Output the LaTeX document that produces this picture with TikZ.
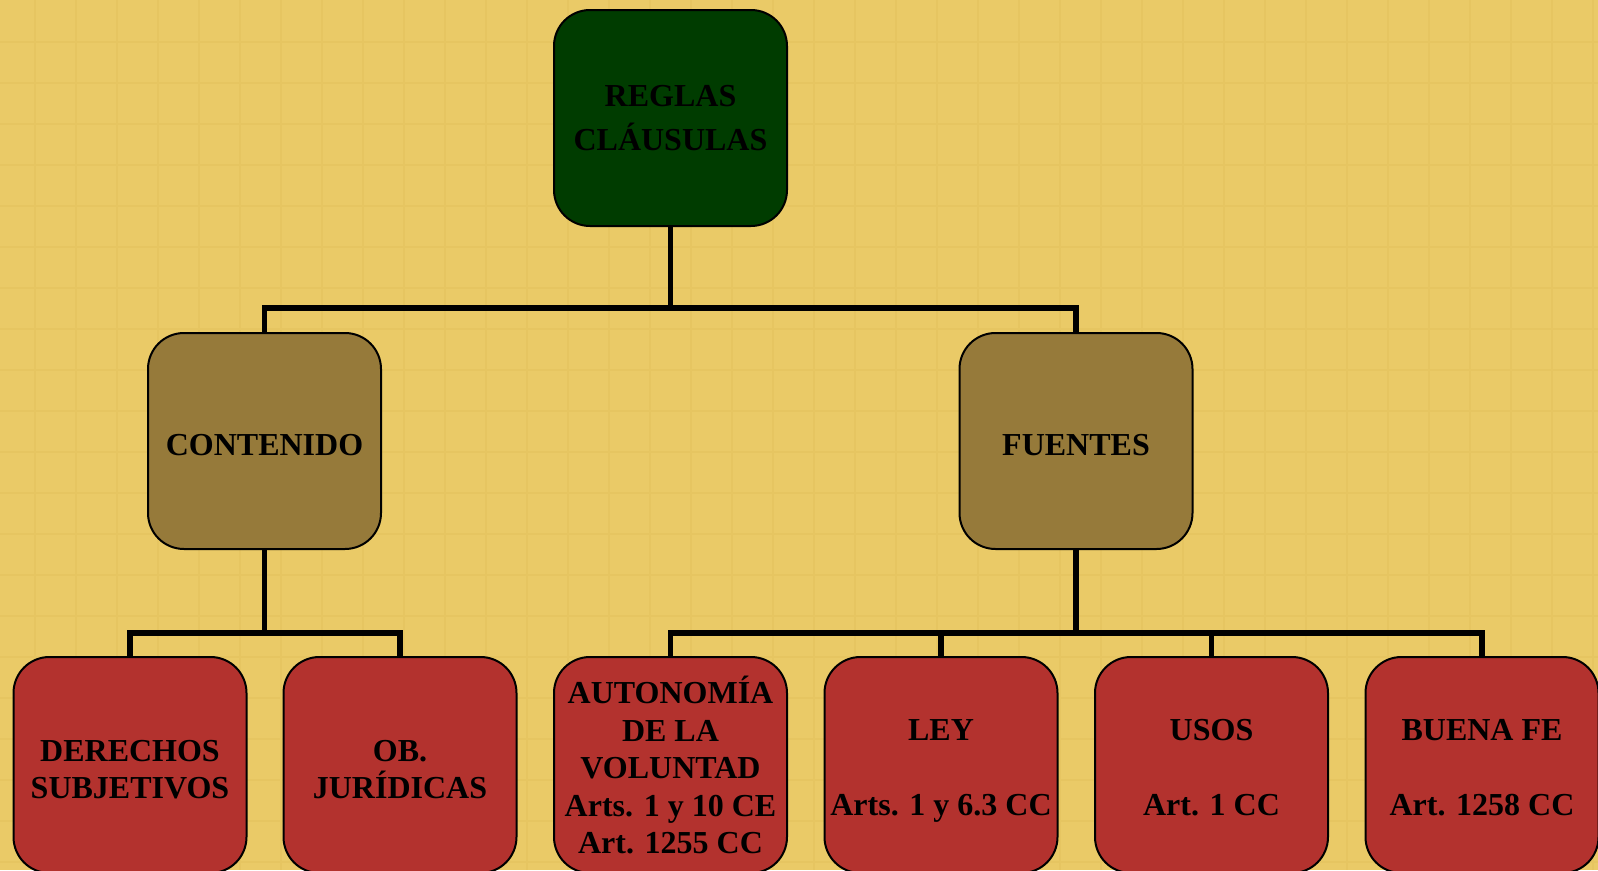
\documentclass[tikz,border=0pt]{standalone}
\usepackage{fontspec}
\setmainfont{Liberation Serif}
\usepackage{tikz}
\usetikzlibrary{positioning}

\definecolor{paper}{RGB}{234,202,103}
\definecolor{paperline}{RGB}{230,197,97}
\definecolor{rootgreen}{RGB}{0,60,0}
\definecolor{midbrown}{RGB}{150,122,58}
\definecolor{leafred}{RGB}{179,50,46}

\tikzset{
    box/.style={draw=black, line width=2pt, rounded corners=36pt, minimum width=233pt, minimum height=216pt, align=center, text=black, font=\fontsize{32}{37.5}\selectfont\bfseries},
    conn/.style={draw=black, line width=5.5pt}
}

\begin{document}
\begin{tikzpicture}[x=1pt, y=-1pt]
    % Background paper with a faint grid
    \fill[paper] (0,0) rectangle (1598,870);
    \useasboundingbox (0,0) rectangle (1598,870);
    \foreach \x in {0,...,38}
        \draw[paperline, line width=1.5pt] (35+41*\x,0) -- (35+41*\x,870);
    \foreach \y in {0,...,20}
        \draw[paperline, line width=1.5pt] (0,42+41*\y) -- (1598,42+41*\y);

    % Draw the boxes
    \node[box, fill=rootgreen] (Reglas) at (670.5,118) {REGLAS\\[6pt]CLÁUSULAS};
    \node[box, fill=midbrown] (Contenido) at (264.5,441) {\rule{0pt}{30pt}CONTENIDO};
    \node[box, fill=midbrown] (Fuentes) at (1076,441) {\rule{0pt}{30pt}FUENTES};

    \node[box, fill=leafred] (Derechos) at (130,765) {\rule{0pt}{30pt}DERECHOS\\SUBJETIVOS};
    \node[box, fill=leafred] (Obligaciones) at (400,765) {\rule{0pt}{30pt}OB.\\JURÍDICAS};
    \node[box, fill=leafred] (Autonomia) at (670.5,765) {AUTONOMÍA\\DE LA\\VOLUNTAD\\Arts. 1 y 10 CE\\Art. 1255 CC};
    \node[box, fill=leafred] (Ley) at (941,765) {\rule{0pt}{38pt}LEY\\[37.5pt]Arts. 1 y 6.3 CC\strut};
    \node[box, fill=leafred] (Usos) at (1211.5,765) {\rule{0pt}{38pt}USOS\\[37.5pt]Art. 1 CC\strut};
    \node[box, fill=leafred] (BuenaFe) at (1482,765) {\rule{0pt}{38pt}BUENA FE\\[37.5pt]Art. 1258 CC\strut};

    % Junctions of the tree
    \coordinate (J1) at (670.5,308);
    \coordinate (J2) at (264.5,633);
    \coordinate (J3) at (1076,633);

    % Connect the boxes
    \draw[conn] (Reglas.south) -- (J1) -| (Contenido.north);
    \draw[conn] (J1) -| (Fuentes.north);
    \draw[conn] (Contenido.south) -- (J2) -| (Derechos.north);
    \draw[conn] (J2) -| (Obligaciones.north);
    \draw[conn] (Fuentes.south) -- (J3) -| (Autonomia.north);
    \draw[conn] (J3) -| (BuenaFe.north);
    \draw[conn] (Ley.north) -- (Ley.north |- J3);
    \draw[conn] (Usos.north) -- (Usos.north |- J3);
\end{tikzpicture}
\end{document}
